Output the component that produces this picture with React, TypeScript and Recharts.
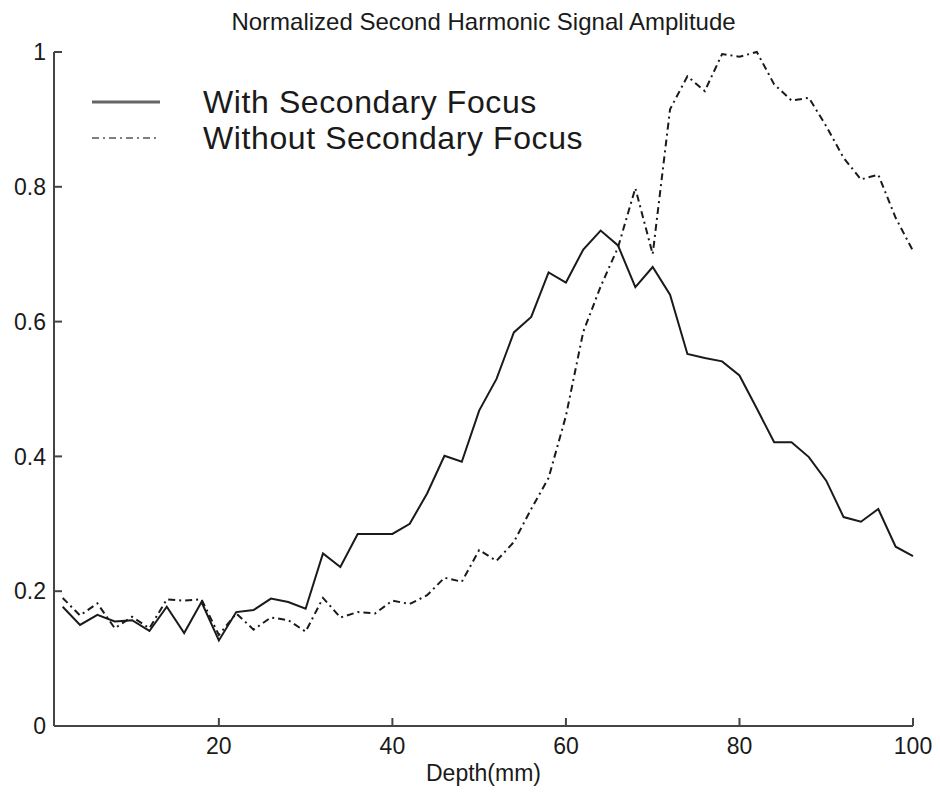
import React from "react";
import { LineChart, Line, XAxis, YAxis } from "recharts";

const depth = [
  2, 4, 6, 8, 10, 12, 14, 16, 18, 20, 22, 24, 26, 28, 30, 32, 34, 36, 38, 40,
  42, 44, 46, 48, 50, 52, 54, 56, 58, 60, 62, 64, 66, 68, 70, 72, 74, 76, 78, 80,
  82, 84, 86, 88, 90, 92, 94, 96, 98, 100,
];

const withFocus = [
  0.177, 0.15, 0.165, 0.155, 0.157, 0.141, 0.177, 0.138, 0.184, 0.127,
  0.169, 0.172, 0.189, 0.184, 0.174, 0.256, 0.236, 0.285, 0.285, 0.285,
  0.3, 0.345, 0.401, 0.392, 0.468, 0.515, 0.584, 0.607, 0.673, 0.658,
  0.707, 0.735, 0.713, 0.651, 0.681, 0.64, 0.552, 0.546, 0.541, 0.52,
  0.471, 0.421, 0.421, 0.399, 0.364, 0.31, 0.303, 0.322, 0.266, 0.252,
];

const withoutFocus = [
  0.19, 0.164, 0.182, 0.145, 0.162, 0.145, 0.188, 0.186, 0.188, 0.135,
  0.167, 0.143, 0.161, 0.157, 0.14, 0.19, 0.161, 0.169, 0.167, 0.186,
  0.181, 0.194, 0.22, 0.214, 0.261, 0.245, 0.273, 0.322, 0.368, 0.46,
  0.585, 0.652, 0.71, 0.798, 0.7, 0.915, 0.964, 0.942, 0.997, 0.993,
  1.0, 0.952, 0.928, 0.932, 0.89, 0.843, 0.811, 0.818, 0.754, 0.705,
];

const seriesNames = ["With Secondary Focus", "Without Secondary Focus"];
const xTicks = [20, 40, 60, 80, 100];
const yTicks = [0, 0.2, 0.4, 0.6, 0.8, 1];

const rows = depth.map((d, i) => ({ depth: d, with: withFocus[i], without: withoutFocus[i] }));

const font = "'Liberation Sans', Arial, sans-serif";
const ink = "#1a1a1a";
const dashDot = "7 4 2 4";

export default function App() {
  return (
    <div style={{ position: "relative", width: 940, height: 796, background: "#fff" }}>
      <style>{`body{margin:0}`}</style>
      <div
        style={{
          position: "absolute",
          top: 8,
          left: 0,
          width: 967,
          textAlign: "center",
          fontFamily: font,
          fontSize: 24,
          color: ink,
        }}
      >
        Normalized Second Harmonic Signal Amplitude
      </div>
      {/* legend, drawn by hand so it takes no room from the plot */}
      <div style={{ position: "absolute", top: 84, left: 90, fontFamily: font, color: ink }}>
        {seriesNames.map((name, i) => (
          <div key={name} style={{ display: "flex", alignItems: "center", height: 36 }}>
            <svg width={113} height={10}>
              <line
                x1={2}
                x2={70}
                y1={5}
                y2={5}
                stroke={i === 0 ? "#666" : "#555"}
                strokeWidth={i === 0 ? 3 : 1.5}
                strokeDasharray={i === 0 ? undefined : dashDot}
              />
            </svg>
            <span style={{ fontSize: 32, lineHeight: "36px", letterSpacing: 0.6 }}>{name}</span>
          </div>
        ))}
      </div>
      <LineChart width={940} height={796} data={rows} margin={{ top: 52, right: 27, bottom: 0, left: 0 }}>
        <XAxis
          dataKey="depth"
          type="number"
          domain={[1, 100]}
          ticks={xTicks}
          height={70}
          tickSize={-8}
          tickMargin={20}
          stroke="#444"
          strokeWidth={2}
          tick={{ fontSize: 23, fill: ink, fontFamily: font }}
        />
        <YAxis
          domain={[0, 1]}
          ticks={yTicks}
          width={54}
          tickSize={-8}
          tickMargin={16}
          stroke="#444"
          strokeWidth={2}
          tick={{ fontSize: 23, fill: ink, fontFamily: font }}
        />
        <Line
          name={seriesNames[0]}
          dataKey="with"
          stroke={ink}
          strokeWidth={2}
          dot={false}
          isAnimationActive={false}
        />
        <Line
          name={seriesNames[1]}
          dataKey="without"
          stroke={ink}
          strokeWidth={2}
          strokeDasharray={dashDot}
          dot={false}
          isAnimationActive={false}
        />
      </LineChart>
      <div
        style={{
          position: "absolute",
          top: 760,
          left: 0,
          width: 967,
          textAlign: "center",
          fontFamily: font,
          fontSize: 23,
          color: ink,
        }}
      >
        Depth(mm)
      </div>
    </div>
  );
}
